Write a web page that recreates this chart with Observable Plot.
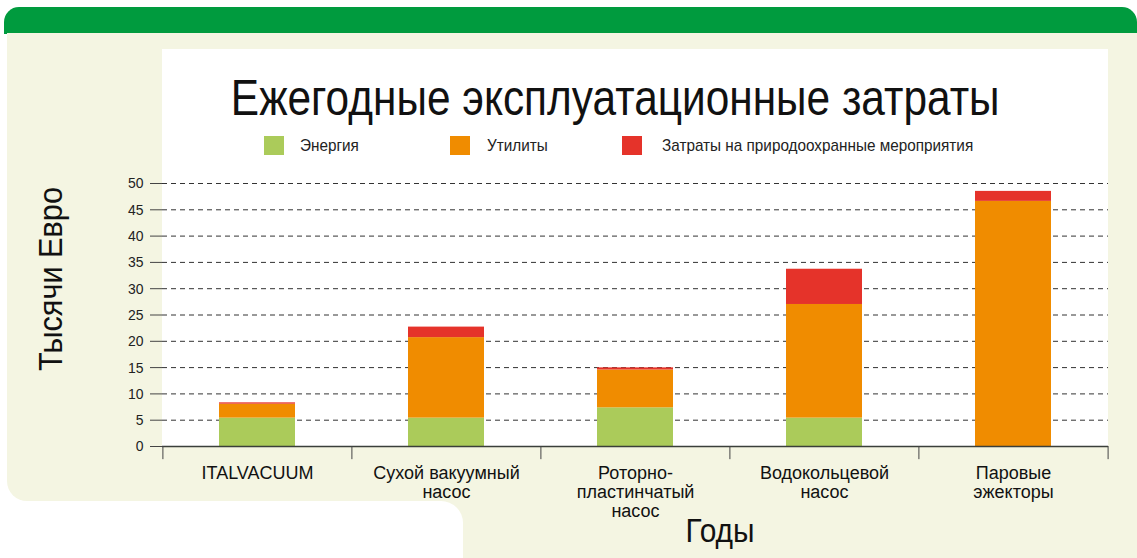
<!DOCTYPE html>
<html>
<head>
<meta charset="utf-8">
<script src="https://cdn.jsdelivr.net/npm/d3@7"></script>
<script src="https://cdn.jsdelivr.net/npm/@observablehq/plot@0.6"></script>
<style>
  html, body { margin: 0; padding: 0; background: #ffffff; }
  #page { position: relative; width: 1137px; height: 558px; overflow: hidden;
          font-family: 'Liberation Sans', Arial, sans-serif; }
  .abs { position: absolute; }
  #header { left: 4px; top: 7px; width: 1133px; height: 27px; background: #009b3e; border-radius: 15px 15px 0 0; }
  #beigeA { left: 7px; top: 33px; right: 0; height: 468px; background: #f4f5e2; border-bottom-left-radius: 20px; }
  #beigeB { left: 420px; top: 470px; right: 0; bottom: 0; background: #f4f5e2; }
  #whiteC { left: 0; top: 501px; width: 463px; height: 57px; background: #ffffff; border-top-right-radius: 22px; }
  #panel { left: 162px; top: 49px; width: 946px; height: 397px; background: #ffffff; }
  #title { left: 162px; width: 906px; top: 73px; text-align: center; font-size: 50px; color: #111; white-space: nowrap; line-height: 1; transform: scaleX(0.848); transform-origin: 453px 0; }
  .sw { width: 20px; height: 19px; top: 136px; }
  .lt { top: 137px; font-size: 17px; color: #222; white-space: nowrap; line-height: 1; transform: scaleX(0.9); transform-origin: 0 0; }
  #ytitle { left: 50px; top: 279px; font-size: 33px; color: #111; white-space: nowrap; transform: translate(-50%, -50%) rotate(-90deg) scaleX(0.93); line-height: 1; }
  #xtitle { left: 720px; top: 513px; font-size: 34px; color: #111; white-space: nowrap; transform: translateX(-50%) scaleX(0.88); line-height: 1; }
  #chart { left: 0; top: 0; }
</style>
</head>
<body>
<div id="page">
  <div class="abs" id="header"></div>
  <div class="abs" id="beigeB"></div>
  <div class="abs" id="beigeA"></div>
  <div class="abs" id="whiteC"></div>
  <div class="abs" id="panel"></div>
  <div class="abs" id="title">Ежегодные эксплуатационные затраты</div>
  <div id="legend"></div>
  <div class="abs" id="ytitle">Тысячи Евро</div>
  <div class="abs" id="xtitle">Годы</div>
  <div class="abs" id="chart"></div>
</div>
<script>
const categories = ["ITALVACUUM", "Сухой вакуумный насос", "Роторно-пластинчатый насос", "Водокольцевой насос", "Паровые эжекторы"];
const tickLabels = ["ITALVACUUM", "Сухой вакуумный\nнасос", "Роторно-\nпластинчатый\nнасос", "Водокольцевой\nнасос", "Паровые\nэжекторы"];
const seriesNames = ["Энергия", "Утилиты", "Затраты на природоохранные мероприятия"];
const energy = [5.4, 5.4, 7.35, 5.4, 0];
const utilities = [2.65, 15.3, 7.2, 21.6, 46.6];
const environment = [0.25, 2.0, 0.4, 6.7, 1.9];
const yTicks = [0, 5, 10, 15, 20, 25, 30, 35, 40, 45, 50];
const seriesColors = ["#abcb5a", "#f08c00", "#e5332a"];

const seriesValues = [energy, utilities, environment];
const rows = [];
categories.forEach((c, i) => {
  seriesNames.forEach((s, j) => rows.push({category: c, series: s, value: seriesValues[j][i]}));
});

// legend (HTML)
const legendX = [[264, 300], [450, 487], [622, 662]];
const legend = document.getElementById("legend");
seriesNames.forEach((s, j) => {
  const sw = document.createElement("div");
  sw.className = "abs sw"; sw.style.left = legendX[j][0] + "px"; sw.style.background = seriesColors[j];
  const t = document.createElement("div");
  t.className = "abs lt"; t.style.left = legendX[j][1] + "px"; t.textContent = s;
  legend.appendChild(sw); legend.appendChild(t);
});

const W = 1137, H = 558, mL = 162, mR = 29, mT = 183, mB = 112;
const step = (W - mL - mR) / categories.length;
const FONT = "'Liberation Sans', Arial, sans-serif";

const chart = Plot.plot({
  width: W, height: H,
  marginLeft: mL, marginRight: mR, marginTop: mT, marginBottom: mB,
  style: {background: "transparent", fontFamily: FONT, color: "#222", overflow: "visible"},
  x: {domain: categories, paddingInner: 0.6, paddingOuter: 0.3, label: null},
  y: {domain: [0, 50], label: null},
  color: {domain: seriesNames, range: seriesColors},
  marks: [
    Plot.gridY(yTicks.filter(d => d > 0), {stroke: "#333", strokeOpacity: 1, strokeDasharray: "5,4", strokeWidth: 1}),
    Plot.barY(rows, {x: "category", y: "value", fill: "series"}),
    Plot.ruleY([0], {stroke: "#3a3f3a", strokeWidth: 1.5}),
    Plot.axisY({ticks: yTicks, tickSize: 12, tickPadding: 7, fontSize: 15.5, stroke: "#444", label: null}),
    Plot.axisX({tickSize: 0, tickPadding: 19.5, fontSize: 18, lineHeight: 1.04, fill: "#111",
                tickFormat: d => tickLabels[categories.indexOf(d)], label: null}),
    Plot.ruleX(categories, {x: d => d, y1: 0, y2: -2.5, dx: -step / 2, stroke: "#444", strokeWidth: 1}),
    Plot.ruleX(categories.slice(-1), {x: d => d, y1: 0, y2: -2.5, dx: step / 2, stroke: "#444", strokeWidth: 1})
  ]
});
// condense y tick labels slightly (reference uses a narrow face)
chart.querySelectorAll('g[aria-label="y-axis tick label"] text').forEach(t => {
  t.setAttribute("transform", (t.getAttribute("transform") || "") + " scale(0.9,1)");
});
document.getElementById("chart").appendChild(chart);
</script>
</body>
</html>
